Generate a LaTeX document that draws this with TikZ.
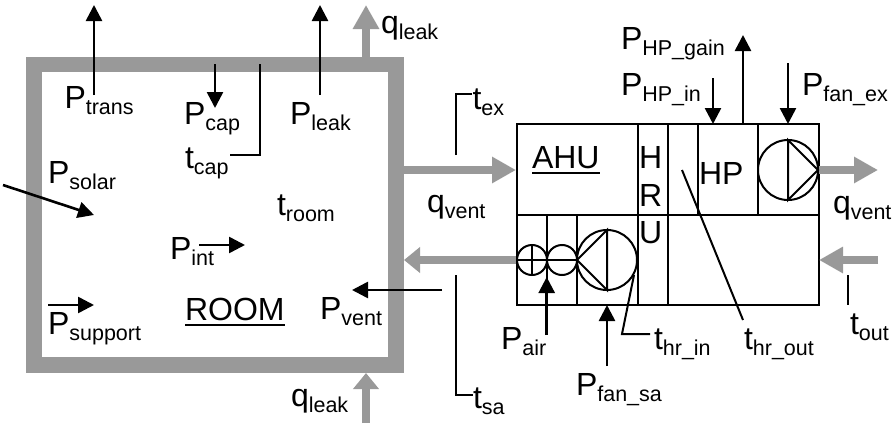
\documentclass[tikz,border=0pt]{standalone}
\usepackage{fontspec}
\setmainfont{Liberation Sans}
\usetikzlibrary{arrows.meta,calc}
\newcommand\Sb[1]{\raisebox{-6pt}{\fontsize{21.5}{24}\selectfont #1}}
\definecolor{wallgray}{HTML}{999999}
\tikzset{
  lab/.style={inner sep=0pt,outer sep=0pt,anchor=base west,font=\fontsize{32}{38}\selectfont},
  wall/.style={draw=wallgray,line width=15.5pt,inner sep=0pt,outer sep=0pt,miter limit=10},
  box/.style={draw=black,line width=2pt,inner sep=0pt,outer sep=0pt},
  disc/.style={circle,draw=black,line width=2pt,inner sep=0pt,outer sep=0pt},
  part/.style={draw=black,line width=2pt},
  thin line/.style={draw=black,line width=2pt},
  heat/.style={draw=black,line width=2.6pt,-{Triangle[length=16pt,width=16pt]}},
  flow/.style={draw=wallgray,line width=8.5pt,-{Triangle[length=16pt,width=25pt]}},
  flow long/.style={draw=wallgray,line width=8.5pt,-{Triangle[length=24pt,width=25pt]}},
  ul/.style={draw=black,line width=2pt},
}
\begin{document}
\begin{tikzpicture}[x=1pt,y=-1pt]
\useasboundingbox (0,0) rectangle (894,423);
% walls and unit
\node[wall,minimum width=362pt,minimum height=300.5pt] (room) at (215,214.75) {};
\node[box,minimum width=302pt,minimum height=181pt] (ahu) at (667.5,214.5) {};
% free ends
\coordinate (qlt0) at (366,57);   \coordinate (qlt1) at (366,5);
\coordinate (qlb0) at (366,423);  \coordinate (qlb1) at (366,373);
\coordinate (qve0) at (404,170);  \coordinate (qve1) at (516,170);
\coordinate (qvs0) at (516,260);  \coordinate (qvs1) at (404,260);
\coordinate (qvx0) at (819,170);  \coordinate (qvx1) at (878,170);
\coordinate (qvo0) at (878,260);  \coordinate (qvo1) at (819,260);
% gray flows
\draw[flow long] (qlt0) -- (qlt1);
\draw[flow] (qlb0) -- (qlb1);
\draw[flow long] (qve0) -- (qve1);
\draw[flow] (qvs0) -- (qvs1);
\draw[flow long] (qvx0) -- (qvx1);
\draw[flow long] (qvo0) -- (qvo1);
% unit parts
\coordinate (m0) at (516.5,215); \coordinate (m1) at (818.5,215);
\draw[part] (m0) -- (m1);
\coordinate (hr0) at (637.7,124); \coordinate (hr1) at (637.7,305);
\coordinate (hr2) at (667.7,124); \coordinate (hr3) at (667.7,305);
\draw[part] (hr0) -- (hr1);
\draw[part] (hr2) -- (hr3);
\coordinate (a0) at (697.7,124); \coordinate (a1) at (697.7,215);
\coordinate (b0) at (757.7,124); \coordinate (b1) at (757.7,215);
\coordinate (c0) at (546.7,215); \coordinate (c1) at (546.7,305);
\coordinate (d0) at (577,215);   \coordinate (d1) at (577,305);
\draw[part] (a0) -- (a1);
\draw[part] (b0) -- (b1);
\draw[part] (c0) -- (c1);
\draw[part] (d0) -- (d1);
\node[disc,minimum size=60pt] (fanex) at (788,170) {};
\node[disc,minimum size=60pt] (fansa) at (607,260) {};
\node[disc,minimum size=30pt] (coil) at (532,260) {};
\node[disc,minimum size=30pt] (hum) at (562,260) {};
\draw[part] (fanex.north) -- (fanex.east) -- (fanex.south) -- cycle;
\draw[part] (fansa.north) -- (fansa.west) -- (fansa.south) -- cycle;
\draw[part] (coil.west) -- (fansa.west);
\draw[part] (coil.north) -- (coil.south);
% power arrows
\coordinate (pt0) at (94,95);    \coordinate (pt1) at (94,5);
\coordinate (pl0) at (320,95);   \coordinate (pl1) at (320,5);
\coordinate (pc0) at (215,64);   \coordinate (pc1) at (215,108);
\coordinate (ps0) at (3,185);    \coordinate (ps1) at (94,215);
\coordinate (pi0) at (199,245);  \coordinate (pi1) at (245,245);
\coordinate (pu0) at (48,305);   \coordinate (pu1) at (94,305);
\coordinate (pv0) at (442,290);  \coordinate (pv1) at (352,290);
\coordinate (pa0) at (546.7,335);\coordinate (pa1) at (546.7,277);
\coordinate (pf0) at (607,366);  \coordinate (pf1) at (607,305);
\coordinate (hi0) at (713,78);   \coordinate (hi1) at (713,124);
\coordinate (hg0) at (743,124);  \coordinate (hg1) at (743,35);
\coordinate (fe0) at (788,63);   \coordinate (fe1) at (788,124);
\foreach \s/\e in {pt0/pt1,pl0/pl1,pc0/pc1,ps0/ps1,pi0/pi1,pu0/pu1,pv0/pv1,pa0/pa1,pf0/pf1,hi0/hi1,hg0/hg1,fe0/fe1}
  \draw[heat] (\s) -- (\e);
% sensor lines
\coordinate (tc0) at (260,64);  \coordinate (tc1) at (260,155); \coordinate (tc2) at (230,155);
\coordinate (te0) at (456,155); \coordinate (te1) at (456,94);  \coordinate (te2) at (472,94);
\coordinate (ts0) at (456,275); \coordinate (ts1) at (456,395); \coordinate (ts2) at (473,395);
\coordinate (to0) at (848,275); \coordinate (to1) at (848,305);
\coordinate (ti0) at (634,275); \coordinate (ti1) at (622,334); \coordinate (ti2) at (650,334);
\coordinate (tu0) at (682,170); \coordinate (tu1) at (743,320);
\draw[thin line] (tc0) -- (tc1) -- (tc2);
\draw[thin line] (te0) -- (te1) -- (te2);
\draw[thin line] (ts0) -- (ts1) -- (ts2);
\draw[thin line] (to0) -- (to1);
\draw[thin line] (ti0) -- (ti1) -- (ti2);
\draw[thin line] (tu0) -- (tu1);
% labels
\node[lab] (lptrans) at (64.5,108) {P\Sb{trans}};
\node[lab] (lpcap) at (184,124) {P\Sb{cap}};
\node[lab] (lpleak) at (290,124) {P\Sb{leak}};
\node[lab] (lqleakt) at (381,33) {q\Sb{leak}};
\node[lab] (ltcap) at (185,168) {t\Sb{cap}};
\node[lab] (lpsolar) at (48,183) {P\Sb{solar}};
\node[lab] (ltroom) at (277,215) {t\Sb{room}};
\node[lab] (lpint) at (170,259) {P\Sb{int}};
\node[lab] (lpsupport) at (48,334) {P\Sb{support}};
\node[lab] (lroom) at (185,320) {ROOM};
\node[lab] (lpvent) at (320,319) {P\Sb{vent}};
\node[lab] (lqleakb) at (291,406) {q\Sb{leak}};
\node[lab] (ltsa) at (473,408) {t\Sb{sa}};
\node[lab] (lqventl) at (427,212) {q\Sb{vent}};
\node[lab] (ltex) at (472.5,109) {t\Sb{ex}};
\node[lab] (lahu) at (532,168) {AHU};
\node[lab] (lh) at (639,168) {H};
\node[lab] (lr) at (639,206) {R};
\node[lab] (lu) at (639,243) {U};
\node[lab] (lhp) at (699,184) {HP};
\node[lab] (lqventr) at (833,213) {q\Sb{vent}};
\node[lab] (ltout) at (850,334) {t\Sb{out}};
\node[lab] (lthrout) at (744,349) {t\Sb{hr\_out}};
\node[lab] (lthrin) at (654,349) {t\Sb{hr\_in}};
\node[lab] (lpair) at (501,349) {P\Sb{air}};
\node[lab] (lpfansa) at (576,395) {P\Sb{fan\_sa}};
\node[lab] (lphpgain) at (621,49) {P\Sb{HP\_gain}};
\node[lab] (lphpin) at (621,95) {P\Sb{HP\_in}};
\node[lab] (lpfanex) at (802,95) {P\Sb{fan\_ex}};
\draw[ul] ($(lroom.base west)+(0,4.5)$) -- ($(lroom.base east)+(0,4.5)$);
\draw[ul] ($(lahu.base west)+(0,4.5)$) -- ($(lahu.base east)+(0,4.5)$);
\end{tikzpicture}
\end{document}
